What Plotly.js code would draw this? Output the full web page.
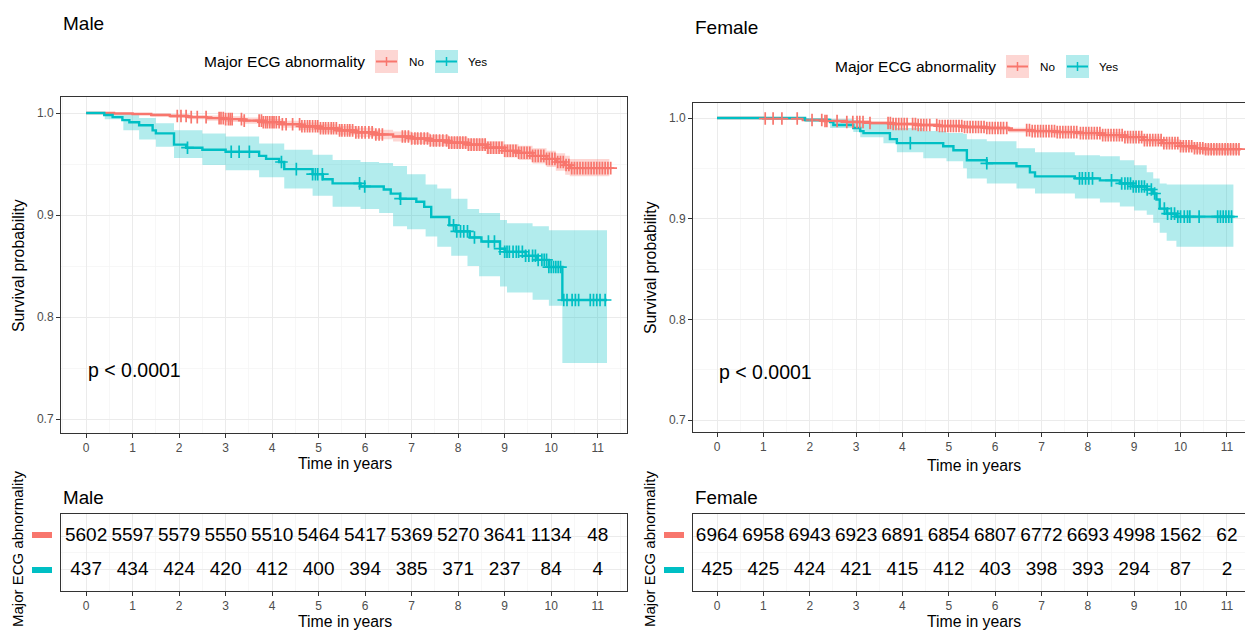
<!DOCTYPE html>
<html>
<head>
<meta charset="utf-8">
<script src="https://cdn.plot.ly/plotly-3.0.1.min.js"></script>
<style>html,body{margin:0;padding:0;background:#fff;}#chart{width:1245px;height:636px;}</style>
</head>
<body>
<div id="chart"></div>
<script>
// ---------------- DATA ----------------
const years = [0,1,2,3,4,5,6,7,8,9,10,11];
const groups = ["No", "Yes"];

// Risk tables (number at risk)
const maleNoRisk   = [5602,5597,5579,5550,5510,5464,5417,5369,5270,3641,1134,48];
const maleYesRisk  = [437,434,424,420,412,400,394,385,371,237,84,4];
const femaleNoRisk = [6964,6958,6943,6923,6891,6854,6807,6772,6693,4998,1562,62];
const femaleYesRisk= [425,425,424,421,415,412,403,398,393,294,87,2];

// Male, No abnormality
const maleNoTime  = [0,0.6,1.0,1.4,1.8,2.2,2.6,3.0,3.4,3.8,4.2,4.6,5.0,5.4,5.8,6.2,6.6,7.0,7.4,7.8,8.2,8.6,9.0,9.3,9.6,9.9,10.1,10.3,10.4];
const maleNoSurv  = [1.0,0.9995,0.999,0.998,0.997,0.996,0.995,0.994,0.9925,0.991,0.989,0.987,0.985,0.983,0.981,0.979,0.977,0.975,0.973,0.971,0.969,0.966,0.963,0.961,0.958,0.955,0.952,0.949,0.946];
const maleNoLower = [1.0,0.999,0.998,0.9965,0.995,0.9938,0.9925,0.9912,0.9895,0.9878,0.9855,0.9833,0.981,0.9788,0.9765,0.9743,0.972,0.9697,0.9675,0.9652,0.963,0.9597,0.9565,0.954,0.9505,0.947,0.9435,0.9395,0.938];
const maleNoUpper = [1.0,1.0,1.0,0.9995,0.999,0.998,0.9975,0.9968,0.9955,0.9942,0.9925,0.9907,0.989,0.9872,0.9855,0.9837,0.982,0.9803,0.9785,0.9768,0.975,0.9723,0.9695,0.968,0.9655,0.963,0.9605,0.958,0.955];
const maleNoEnd = 11.3;
const maleNoCensor = [1.96,2.04,2.15,2.26,2.39,2.58,2.86,2.9,2.95,3.0,3.06,3.1,3.14,3.34,3.4,3.72,3.77,3.81,3.86,3.9,3.95,4.0,4.04,4.09,4.15,4.22,4.3,4.44,4.59,4.64,4.7,4.76,4.81,4.87,4.93,4.98,5.04,5.1,5.15,5.21,5.27,5.32,5.38,5.45,5.5,5.56,5.62,5.67,5.73,5.8,5.86,5.93,6.0,6.08,6.15,6.23,6.3,6.37,6.8,6.86,6.93,7.0,7.07,7.13,7.2,7.27,7.34,7.4,7.47,7.53,7.6,7.67,7.75,7.8,7.86,7.92,7.98,8.04,8.1,8.16,8.22,8.28,8.34,8.4,8.46,8.52,8.58,8.64,8.7,8.76,8.82,8.88,8.94,9.0,9.06,9.12,9.18,9.24,9.3,9.36,9.42,9.48,9.54,9.6,9.66,9.72,9.78,9.84,9.9,9.96,10.02,10.08,10.14,10.2,10.26,10.32,10.38,10.44,10.5,10.56,10.62,10.68,10.74,10.8,10.86,10.92,10.98,11.04,11.1,11.16,11.22,11.28];

// Male, Yes abnormality
const maleYesTime = [0,0.39,0.57,0.78,0.93,1.14,1.43,1.5,1.89,2.15,2.5,3.0,3.72,3.87,4.15,4.26,4.87,5.09,5.3,5.9,6.4,6.55,6.75,7.1,7.27,7.42,7.81,7.95,8.25,8.5,8.9,9.0,9.45,9.7,9.95,10.24];
const maleYesSurv = [1.0,0.998,0.996,0.993,0.991,0.988,0.983,0.980,0.969,0.966,0.964,0.962,0.958,0.955,0.952,0.945,0.940,0.935,0.931,0.928,0.925,0.921,0.916,0.913,0.908,0.898,0.890,0.884,0.878,0.874,0.867,0.864,0.860,0.856,0.849,0.8167];
const maleYesEnd = 11.2;
const maleYesCiTime  = [0,0.4,0.8,1.14,1.5,1.89,2.5,3.0,3.72,4.26,4.87,5.3,5.9,6.3,6.6,6.9,7.3,7.55,7.85,8.2,8.45,8.9,9.05,9.6,9.95,10.24];
const maleYesCiLower = [1.0,0.994,0.983,0.974,0.967,0.956,0.949,0.944,0.937,0.926,0.919,0.908,0.906,0.902,0.889,0.886,0.879,0.869,0.86,0.85,0.84,0.83,0.824,0.817,0.811,0.755];
const maleYesCiUpper = [1.0,1.0,0.999,0.995,0.99,0.983,0.98,0.977,0.97,0.964,0.959,0.954,0.952,0.951,0.948,0.94,0.93,0.926,0.916,0.906,0.902,0.895,0.892,0.889,0.885,0.885];
const maleYesCensor = [2.18,3.12,3.29,3.51,4.2,4.52,4.87,4.93,4.98,5.08,5.88,5.99,6.76,7.9,7.97,8.05,8.12,8.2,8.35,8.65,8.78,8.9,9.0,9.05,9.1,9.18,9.25,9.3,9.38,9.45,9.52,9.6,9.66,9.72,9.8,9.85,9.9,9.95,10.0,10.05,10.1,10.15,10.2,10.27,10.34,10.45,10.52,10.59,10.84,10.91,10.98,11.05,11.16];

// Female, No abnormality
const femaleNoTime  = [0,1.0,1.85,2.3,2.8,3.3,3.8,4.3,4.8,5.3,5.8,6.3,6.8,7.3,7.8,8.3,8.8,9.2,9.6,10.0,10.3,10.5];
const femaleNoSurv  = [1.0,0.9995,0.998,0.997,0.996,0.995,0.994,0.993,0.992,0.991,0.990,0.988,0.987,0.986,0.985,0.983,0.981,0.978,0.975,0.972,0.970,0.969];
const femaleNoLower = [1.0,0.999,0.997,0.9958,0.9946,0.9935,0.9924,0.9913,0.9902,0.989,0.9878,0.9857,0.9845,0.9833,0.9821,0.9799,0.9777,0.9745,0.9712,0.968,0.9655,0.964];
const femaleNoUpper = [1.0,1.0,0.999,0.9982,0.9974,0.9965,0.9956,0.9947,0.9938,0.993,0.9922,0.9903,0.9895,0.9887,0.9879,0.9861,0.9843,0.9815,0.9788,0.976,0.9745,0.974];
const femaleNoEnd = 11.3;
const femaleNoCensor = [1.04,1.21,1.40,1.73,2.05,2.26,2.33,2.37,2.59,2.80,2.93,3.02,3.08,3.15,3.30,3.69,3.74,3.8,3.86,3.92,3.98,4.04,4.1,4.22,4.28,4.34,4.4,4.46,4.52,4.59,4.74,4.8,4.86,4.92,4.98,5.04,5.1,5.16,5.22,5.28,5.34,5.4,5.46,5.52,5.58,5.64,5.7,5.76,5.82,5.88,5.94,6.0,6.06,6.12,6.18,6.25,6.68,6.74,6.8,6.86,6.92,6.98,7.04,7.1,7.16,7.22,7.28,7.34,7.4,7.46,7.52,7.58,7.64,7.7,7.76,7.84,7.9,7.96,8.02,8.08,8.14,8.2,8.26,8.32,8.38,8.44,8.5,8.56,8.62,8.68,8.74,8.8,8.86,8.92,8.98,9.04,9.1,9.16,9.22,9.28,9.34,9.4,9.46,9.52,9.58,9.64,9.7,9.76,9.82,9.88,9.94,10.0,10.06,10.12,10.18,10.24,10.3,10.36,10.42,10.48,10.54,10.6,10.66,10.72,10.78,10.84,10.9,10.96,11.02,11.08,11.14,11.2,11.26];

// Female, Yes abnormality
const femaleYesTime = [0,1.9,2.44,2.51,2.94,3.09,3.16,3.73,3.88,4.88,5.10,5.39,5.82,6.46,6.75,6.86,7.72,8.26,8.69,8.98,9.27,9.41,9.48,9.55,9.70,9.91];
const femaleYesSurv = [1.0,0.998,0.996,0.993,0.990,0.987,0.985,0.979,0.975,0.972,0.968,0.958,0.955,0.952,0.946,0.942,0.940,0.938,0.935,0.932,0.929,0.925,0.919,0.910,0.905,0.902];
const femaleYesEnd = 11.14;
const femaleYesCiTime  = [0,1.9,2.44,2.94,3.09,3.59,3.88,4.45,4.95,5.31,5.39,5.82,6.46,6.86,7.72,8.26,8.69,9.0,9.27,9.41,9.55,9.70,9.91];
const femaleYesCiLower = [1.0,0.996,0.990,0.986,0.981,0.975,0.966,0.960,0.957,0.950,0.940,0.935,0.930,0.925,0.920,0.916,0.912,0.908,0.904,0.896,0.886,0.878,0.872];
const femaleYesCiUpper = [1.0,1.0,0.999,0.998,0.996,0.995,0.990,0.987,0.985,0.984,0.979,0.977,0.970,0.966,0.963,0.962,0.958,0.953,0.946,0.940,0.935,0.934,0.934];
const femaleYesCensor = [4.17,5.82,7.82,7.88,7.95,8.02,8.1,8.51,8.73,8.8,8.86,8.92,8.98,9.04,9.1,9.16,9.22,9.28,9.37,9.44,9.65,9.72,9.8,9.87,9.94,10.0,10.08,10.15,10.2,10.4,10.8,10.86,10.92,10.98,11.04,11.1];

// ---------------- STYLE ----------------
const FONT = 'Liberation Sans, Arial, Helvetica, sans-serif';
const RED = '#F8766D', TEAL = '#00BFC4';
const RED_FILL = 'rgba(248,118,109,0.30)', TEAL_FILL = 'rgba(0,191,196,0.30)';
const W = 1245, H = 636;
const P = x => x / W;          // pixel -> paper x
const Q = y => 1 - y / H;      // pixel -> paper y

function stepAt(ts, ss, t) {
  let v = ss[0];
  for (let i = 0; i < ts.length; i++) if (ts[i] <= t) v = ss[i];
  return v;
}
function withEnd(arr, v) { return arr.concat([v]); }

function bandTraces(xa, ya, ts, lo, hi, end, fill) {
  return [
    {type:'scatter', mode:'lines', xaxis:xa, yaxis:ya, x:withEnd(ts,end), y:withEnd(lo, lo[lo.length-1]),
     line:{shape:'hv', width:0, color:fill}, hoverinfo:'skip', showlegend:false},
    {type:'scatter', mode:'lines', xaxis:xa, yaxis:ya, x:withEnd(ts,end), y:withEnd(hi, hi[hi.length-1]),
     line:{shape:'hv', width:0, color:fill}, fill:'tonexty', fillcolor:fill, hoverinfo:'skip', showlegend:false}
  ];
}
function lineTrace(xa, ya, ts, ss, end, color, name) {
  return {type:'scatter', mode:'lines', name:name, xaxis:xa, yaxis:ya, x:withEnd(ts,end), y:withEnd(ss, ss[ss.length-1]),
    line:{shape:'hv', width:2.4, color:color}, showlegend:false};
}
function censorTrace(xa, ya, ts, ss, cens, color) {
  return {type:'scatter', mode:'markers', xaxis:xa, yaxis:ya, x:cens, y:cens.map(t => stepAt(ts, ss, t)),
    marker:{symbol:'cross-thin-open', size:9, color:color, line:{width:1.7, color:color}}, hoverinfo:'skip', showlegend:false};
}
function riskTrace(xa, ya, row, vals) {
  return {type:'scatter', mode:'text', xaxis:xa, yaxis:ya, x:years, y:years.map(() => row), text:vals.map(String),
    textposition:'middle center', textfont:{family:FONT, size:19, color:'#000'}, hoverinfo:'skip', showlegend:false, cliponaxis:false};
}

const data = [].concat(
  // Male KM
  bandTraces('x','y', maleNoTime, maleNoLower, maleNoUpper, 11.25, RED_FILL),
  bandTraces('x','y', maleYesCiTime, maleYesCiLower, maleYesCiUpper, maleYesEnd, TEAL_FILL),
  [lineTrace('x','y', maleNoTime, maleNoSurv, maleNoEnd, RED, groups[0]),
   lineTrace('x','y', maleYesTime, maleYesSurv, maleYesEnd, TEAL, groups[1]),
   censorTrace('x','y', maleNoTime, maleNoSurv, maleNoCensor, RED),
   censorTrace('x','y', maleYesTime, maleYesSurv, maleYesCensor, TEAL)],
  // Female KM
  bandTraces('x2','y2', femaleNoTime, femaleNoLower, femaleNoUpper, 11.25, RED_FILL),
  bandTraces('x2','y2', femaleYesCiTime, femaleYesCiLower, femaleYesCiUpper, femaleYesEnd, TEAL_FILL),
  [lineTrace('x2','y2', femaleNoTime, femaleNoSurv, femaleNoEnd, RED, groups[0]),
   lineTrace('x2','y2', femaleYesTime, femaleYesSurv, femaleYesEnd, TEAL, groups[1]),
   censorTrace('x2','y2', femaleNoTime, femaleNoSurv, femaleNoCensor, RED),
   censorTrace('x2','y2', femaleYesTime, femaleYesSurv, femaleYesCensor, TEAL)],
  // Risk tables
  [riskTrace('x3','y3', 1, maleNoRisk), riskTrace('x3','y3', 0, maleYesRisk),
   riskTrace('x4','y4', 1, femaleNoRisk), riskTrace('x4','y4', 0, femaleYesRisk)]
);

const gridMinor = {tick0:0, dtick:0.5, showgrid:true, gridcolor:'#F3F3F3', gridwidth:0.7, ticks:''};
function xAxis(dom, range, anchor) {
  return {domain:dom, range:range, anchor:anchor, tick0:0, dtick:1, ticks:'outside', ticklen:4, tickwidth:1, tickcolor:'#333',
    tickfont:{family:FONT, size:12, color:'#4D4D4D'}, showgrid:true, gridcolor:'#EBEBEB', gridwidth:1,
    minor:gridMinor, showline:true, mirror:true, linecolor:'#333', linewidth:1, zeroline:false, fixedrange:true};
}
function yAxisKM(dom, range, anchor) {
  return {domain:dom, range:range, anchor:anchor, tick0:0.7, dtick:0.1, tickformat:'.1f', ticks:'outside', ticklen:4, tickwidth:1, tickcolor:'#333',
    tickfont:{family:FONT, size:12, color:'#4D4D4D'}, showgrid:true, gridcolor:'#EBEBEB', gridwidth:1,
    minor:{tick0:0.7, dtick:0.05, showgrid:true, gridcolor:'#F3F3F3', gridwidth:0.7, ticks:''},
    showline:true, mirror:true, linecolor:'#333', linewidth:1, zeroline:false, fixedrange:true};
}
function yAxisTable(dom, anchor) {
  return {domain:dom, range:[-0.618, 1.647], anchor:anchor, tickvals:[0,1], showticklabels:false, ticks:'',
    showgrid:true, gridcolor:'#EBEBEB', gridwidth:1, minor:{tickvals:[0.5], showgrid:true, gridcolor:'#F3F3F3', gridwidth:0.7, ticks:''},
    showline:true, mirror:true, linecolor:'#333', linewidth:1, zeroline:false, fixedrange:true};
}

const maleXRange = [-0.54, 11.63];
const femaleXRange = [-0.518, 11.39];

function txt(text, x, y, size, opts) {
  return Object.assign({text:text, xref:'paper', yref:'paper', x:P(x), y:Q(y), showarrow:false,
    font:{family:FONT, size:size, color:'#000'}, xanchor:'left', yanchor:'middle'}, opts || {});
}

const annotations = [
  txt('Male', 61, 23, 19),
  txt('Female', 693, 27.5, 19),
  // legends
  txt('Major ECG abnormality', 367, 61.5, 15.5, {xanchor:'right'}),
  txt('No', 407, 61.5, 11.7),
  txt('Yes', 466, 61.5, 11.7),
  txt('Major ECG abnormality', 998, 66.5, 15.5, {xanchor:'right'}),
  txt('No', 1038, 66.5, 11.7),
  txt('Yes', 1097, 66.5, 11.7),
  // y titles
  txt('Survival probability', 18, 266, 15.8, {xanchor:'center', textangle:-90}),
  txt('Survival probability', 650, 268, 15.8, {xanchor:'center', textangle:-90}),
  // x titles
  txt('Time in years', 344.5, 464, 15.8, {xanchor:'center'}),
  txt('Time in years', 974, 465, 15.8, {xanchor:'center'}),
  txt('Time in years', 344.5, 621, 15.8, {xanchor:'center'}),
  txt('Time in years', 974, 621, 15.8, {xanchor:'center'}),
  // p-values
  txt('p &lt; 0.0001', 86, 370, 19.5),
  txt('p &lt; 0.0001', 717, 372, 19.5),
  // table titles
  txt('Male', 61, 497, 18.8),
  txt('Female', 693, 497, 18.8),
  // table y titles
  txt('Major ECG abnormality', 17, 549, 15, {xanchor:'center', textangle:-90}),
  txt('Major ECG abnormality', 649, 549, 15, {xanchor:'center', textangle:-90})
];

function legendKey(x0, yc, lineColor, fill) {
  const s = 23, h = s/2;
  return [
    {type:'rect', xref:'paper', yref:'paper', x0:P(x0), x1:P(x0+s), y0:Q(yc+h), y1:Q(yc-h), fillcolor:fill, line:{width:0}},
    {type:'line', xref:'paper', yref:'paper', x0:P(x0+1), x1:P(x0+s-1), y0:Q(yc), y1:Q(yc), line:{color:lineColor, width:2}},
    {type:'line', xref:'paper', yref:'paper', x0:P(x0+h), x1:P(x0+h), y0:Q(yc-4.5), y1:Q(yc+4.5), line:{color:lineColor, width:1.5}}
  ];
}
function dash(x0, yc, color) {
  return {type:'rect', xref:'paper', yref:'paper', x0:P(x0), x1:P(x0+20), y0:Q(yc+3), y1:Q(yc-3), fillcolor:color, line:{width:0}};
}
const shapes = [].concat(
  legendKey(375, 61.5, RED, RED_FILL), legendKey(435, 61.5, TEAL, TEAL_FILL),
  legendKey(1006, 66.5, RED, RED_FILL), legendKey(1066, 66.5, TEAL, TEAL_FILL),
  [dash(32, 535, RED), dash(32, 570, TEAL), dash(664, 535, RED), dash(664, 570, TEAL)]
);

const layout = {
  width:W, height:H, margin:{l:0, r:0, t:0, b:0}, paper_bgcolor:'#fff', plot_bgcolor:'#fff',
  showlegend:false, font:{family:FONT},
  xaxis:  xAxis([P(61), P(627)], maleXRange, 'y'),
  yaxis:  yAxisKM([Q(433), Q(97)], [0.6863, 1.0157], 'x'),
  xaxis2: xAxis([P(693), 1], femaleXRange, 'y2'),
  yaxis2: yAxisKM([Q(432), Q(103)], [0.6881, 1.0149], 'x2'),
  xaxis3: xAxis([P(61), P(627)], maleXRange, 'y3'),
  yaxis3: yAxisTable([Q(591), Q(514)], 'x3'),
  xaxis4: xAxis([P(693), 1], femaleXRange, 'y4'),
  yaxis4: yAxisTable([Q(591), Q(514)], 'x4'),
  annotations:annotations, shapes:shapes
};

Plotly.newPlot('chart', data, layout, {displayModeBar:false, staticPlot:true});
</script>
</body>
</html>
